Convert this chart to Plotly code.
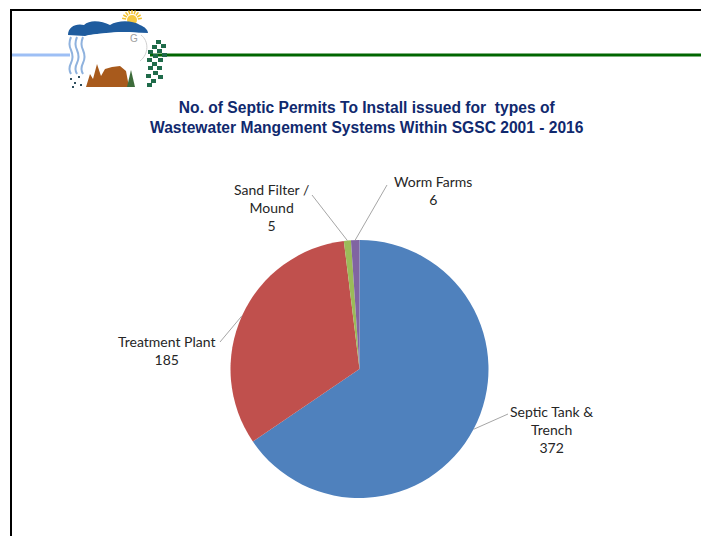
import math
import plotly.graph_objects as go

# ---- data ----
categories = ["Septic Tank &<br>Trench", "Treatment Plant", "Sand Filter /<br>Mound", "Worm Farms"]
values = [372, 185, 5, 6]
colors = ["#4F81BD", "#C0504D", "#9BBB59", "#8064A2"]
title_lines = ["No. of Septic Permits To Install issued for  types of",
               "Wastewater Mangement Systems Within SGSC 2001 - 2016"]

# ---- layout constants (page pixels; the page body has an 8px margin) ----
PAGE_W, PAGE_H = 709, 536
OFF = 8
W, H = PAGE_W - OFF, PAGE_H - OFF
CX, CY, R = 359.5, 369.0, 129.0
label_pos = [(551, 429.5), (166, 350), (271, 207.5), (433, 190)]
leader_end = [(508, 414), (220, 342), (312, 195), (387, 185)]

def fx(x):
    return (x - OFF) / W

def fy(y):
    return 1 - (y - OFF) / H

fig = go.Figure()
fig.add_trace(go.Pie(
    values=values, labels=[c.replace("<br>", " ") for c in categories],
    marker=dict(colors=colors, line=dict(width=0)),
    sort=False, direction="clockwise", rotation=0,
    textinfo="none", hoverinfo="label+value", showlegend=False,
    domain=dict(x=[fx(CX - R), fx(CX + R)], y=[fy(CY + R), fy(CY - R)]),
))
# invisible cartesian layer in page-pixel coordinates for decorations
fig.add_trace(go.Scatter(x=[None], y=[None], mode="markers", showlegend=False, hoverinfo="skip"))

shapes = []
annotations = []

# leader lines from slice midpoints (computed from data)
total = sum(values)
cum = 0
for i, v in enumerate(values):
    mid = (cum + v / 2) / total * 2 * math.pi
    cum += v
    px = CX + R * math.sin(mid)
    py = CY - R * math.cos(mid)
    ex, ey = leader_end[i]
    shapes.append(dict(type="line", xref="x", yref="y", x0=px, y0=py, x1=ex, y1=ey,
                       line=dict(color="#A6A6A6", width=1)))
    lx, ly = label_pos[i]
    annotations.append(dict(xref="x", yref="y", x=lx, y=ly, showarrow=False,
                            text=f"{categories[i]}<br>{v}", align="center",
                            xanchor="center", yanchor="middle",
                            font=dict(family="Lato", size=14, color="#262626")))

# title
annotations.append(dict(xref="x", yref="y", x=367, y=117.5, showarrow=False,
                        text="<br>".join(f"<b>{t}</b>" for t in title_lines), align="center",
                        xanchor="center", yanchor="middle",
                        font=dict(family="Liberation Sans", size=15.6, color="#10296E")))

# slide border (top and left)
shapes += [
    dict(type="line", xref="x", yref="y", x0=10, y0=10, x1=709, y1=10, line=dict(color="black", width=2)),
    dict(type="line", xref="x", yref="y", x0=11, y0=10, x1=11, y1=536, line=dict(color="black", width=2)),
]
# header rules
shapes += [
    dict(type="line", xref="x", yref="y", x0=12, y0=55, x1=70, y1=55, line=dict(color="#9DBFF5", width=3)),
    dict(type="line", xref="x", yref="y", x0=150, y0=55, x1=704, y1=55, line=dict(color="#006600", width=3)),
]

# ---- logo (decorative) ----
def path(pts, close=True):
    s = "M" + " L".join(f"{x},{y}" for x, y in pts)
    return s + (" Z" if close else "")

# sun
for k in range(9):
    a = math.radians(-80 + k * 20)
    shapes.append(dict(type="line", xref="x", yref="y",
                       x0=132 + 6 * math.sin(a), y0=20 - 6 * math.cos(a),
                       x1=132 + 10 * math.sin(a), y1=20 - 10 * math.cos(a),
                       line=dict(color="#F2C12E", width=1.5)))
shapes.append(dict(type="circle", xref="x", yref="y", x0=127, y0=15, x1=137, y1=25,
                   fillcolor="#F5C842", line=dict(width=0)))
# cloud / hills
shapes.append(dict(type="path", xref="x", yref="y",
                   path="M68,35 C68,27 76,23 84,25 C90,19 102,21 110,25 C118,20 132,20 140,25 C145,27 148,30 148,33 L120,32 C110,34 95,33 85,36 Z",
                   fillcolor="#1F5C9E", line=dict(width=0)))
# sheep body
shapes.append(dict(type="path", xref="x", yref="y",
                   path="M86,36 C100,33 130,30 142,34 C150,40 150,55 140,62 C125,66 100,66 88,60 Z",
                   fillcolor="white", line=dict(width=0)))
shapes.append(dict(type="path", xref="x", yref="y",
                   path="M141,35 C149,41 149,54 140,61",
                   line=dict(color="#D0D0D0", width=1)))
annotations.append(dict(xref="x", yref="y", x=134, y=38, showarrow=False, text="G",
                        font=dict(family="Liberation Sans", size=10, color="#A0A0A0")))
# water streams
for x0 in (71, 77, 83):
    shapes.append(dict(type="path", xref="x", yref="y",
                       path=f"M{x0},37 Q{x0-3},44 {x0},50 Q{x0+3},57 {x0},63 Q{x0-3},69 {x0},74",
                       line=dict(color="#8FB2DE", width=2)))
for (dx, dy) in [(70, 78), (74, 82), (78, 76), (72, 86), (80, 84)]:
    shapes.append(dict(type="rect", xref="x", yref="y", x0=dx, y0=dy, x1=dx + 2, y1=dy + 2,
                       fillcolor="#2F4F5F", line=dict(width=0)))
# trees / ground
shapes.append(dict(type="path", xref="x", yref="y",
                   path=path([(86, 87), (90, 74), (93, 79), (97, 64), (101, 76), (105, 69), (112, 67),
                              (120, 66), (126, 71), (129, 87)]),
                   fillcolor="#A85A1C", line=dict(width=0)))
shapes.append(dict(type="path", xref="x", yref="y",
                   path=path([(127, 87), (131, 70), (135, 87)]),
                   fillcolor="#3D6B3A", line=dict(width=0)))
# green checkered squares
checks = [(156, 40), (161, 44), (152, 45), (157, 49), (162, 53), (148, 50), (153, 54), (158, 58),
          (147, 58), (152, 62), (157, 66), (148, 66), (153, 71), (146, 74), (151, 79), (158, 75), (147, 83)]
for (qx, qy) in checks:
    shapes.append(dict(type="rect", xref="x", yref="y", x0=qx, y0=qy, x1=qx + 5, y1=qy + 4,
                       fillcolor="#1F6B4A", line=dict(width=0)))

fig.update_layout(
    width=W, height=H, margin=dict(l=0, r=0, t=0, b=0),
    paper_bgcolor="white", plot_bgcolor="rgba(0,0,0,0)",
    xaxis=dict(range=[OFF, PAGE_W], domain=[0, 1], visible=False, fixedrange=True),
    yaxis=dict(range=[PAGE_H, OFF], domain=[0, 1], visible=False, fixedrange=True),
    shapes=shapes, annotations=annotations,
)
fig.write_html("out.html")
